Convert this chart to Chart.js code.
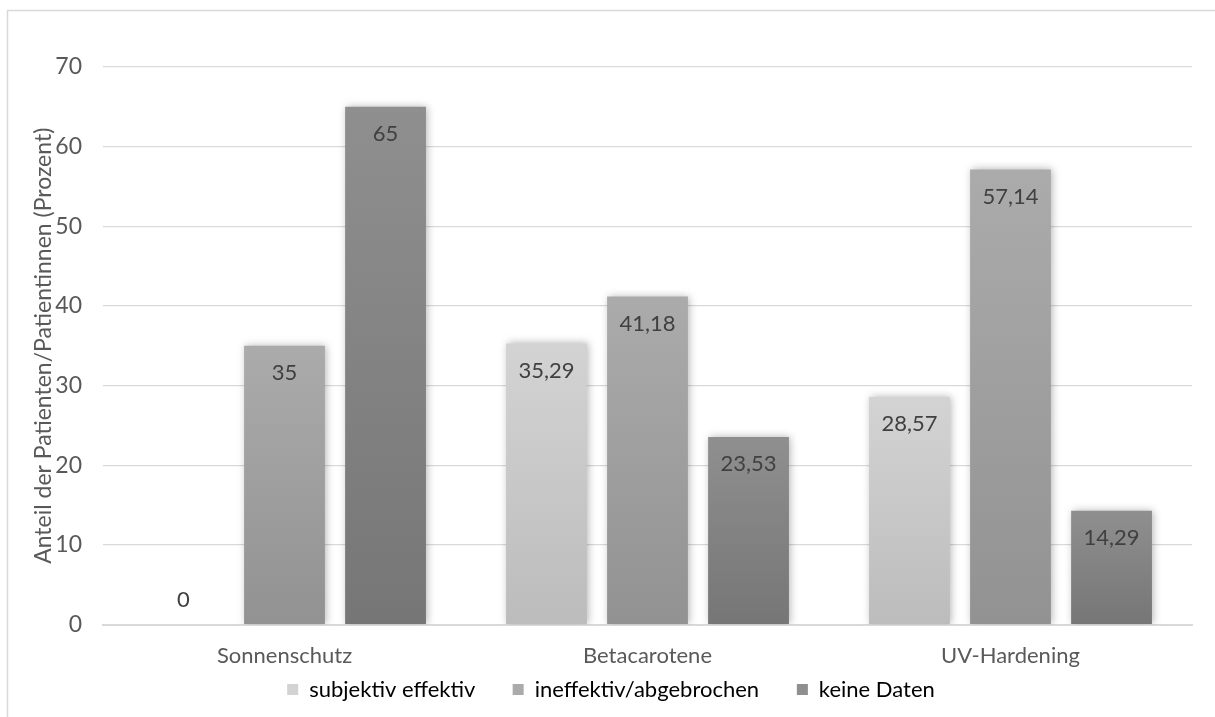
<!DOCTYPE html>
<html>
<head>
<meta charset="utf-8">
<script src="https://cdn.jsdelivr.net/npm/chart.js@4"></script>
<style>
  html, body { margin: 0; padding: 0; background: #fff; }
  #wrap { width: 1215px; height: 717px; position: relative; }
</style>
</head>
<body>
<div id="wrap"><canvas id="chart" width="1215" height="717"></canvas></div>
<script>
// Chart data
const categories = ['Sonnenschutz', 'Betacarotene', 'UV-Hardening'];
const seriesNames = ['subjektiv effektiv', 'ineffektiv/abgebrochen', 'keine Daten'];
const subjektivEffektiv = [0, 35.29, 28.57];
const ineffektivAbgebrochen = [35, 41.18, 57.14];
const keineDaten = [65, 23.53, 14.29];
const yTicks = [0, 10, 20, 30, 40, 50, 60, 70];

// top / bottom colours of each series' gradient
const shades = [
    ['#d3d3d3', '#bcbcbc'],
    ['#ababab', '#929292'],
    ['#8f8f8f', '#767676']
];

const FONT = 'Lato';
const textColor = '#595959';
const legendGap = '\u00a0\u00a0\u00a0\u00a0\u00a0\u00a0';

function barGradient(idx) {
    return (ctx) => {
        const chart = ctx.chart;
        const y = chart.scales.y;
        if (!y || ctx.raw === undefined) return shades[idx][0];
        const top = y.getPixelForValue(ctx.raw);
        const base = y.getPixelForValue(0);
        if (!isFinite(top) || !isFinite(base) || base - top < 1) return shades[idx][0];
        const g = chart.ctx.createLinearGradient(0, top, 0, base);
        g.addColorStop(0, shades[idx][0]);
        g.addColorStop(1, shades[idx][1]);
        return g;
    };
}

const frame = {
    id: 'frame',
    beforeDraw(chart) {
        const c = chart.ctx;
        c.save();
        c.strokeStyle = '#d9d9d9';
        c.lineWidth = 1.5;
        c.beginPath();
        c.moveTo(7.5, 717);
        c.lineTo(7.5, 10.5);
        c.lineTo(1215, 10.5);
        c.stroke();
        c.restore();
    }
};

const barShadow = {
    id: 'barShadow',
    beforeDatasetsDraw(chart) {
        const c = chart.ctx;
        c.save();
        c.shadowColor = 'rgba(0, 0, 0, 0.3)';
        c.shadowBlur = 8;
        c.shadowOffsetX = 1.5;
        c.shadowOffsetY = 0;
    },
    afterDatasetsDraw(chart) {
        chart.ctx.restore();
    }
};

const valueLabels = {
    id: 'valueLabels',
    afterDatasetsDraw(chart) {
        const c = chart.ctx;
        c.save();
        c.font = '22px "' + FONT + '"';
        c.fillStyle = '#404040';
        c.textAlign = 'center';
        c.textBaseline = 'middle';
        chart.data.datasets.forEach((ds, di) => {
            chart.getDatasetMeta(di).data.forEach((el, i) => {
                const v = ds.data[i];
                const ty = v === 0 ? el.base - 25 : el.y + 27;
                c.fillText(String(v).replace('.', ','), el.x, ty);
            });
        });
        c.restore();
    }
};

const allSeries = [subjektivEffektiv, ineffektivAbgebrochen, keineDaten];

new Chart(document.getElementById('chart'), {
    type: 'bar',
    data: {
        labels: categories,
        datasets: allSeries.map((values, i) => ({
            label: seriesNames[i],
            data: values,
            backgroundColor: barGradient(i),
            borderWidth: 0,
            categoryPercentage: 0.835,
            barPercentage: 0.8
        }))
    },
    options: {
        responsive: false,
        animation: false,
        layout: { padding: { top: 67, right: 23, bottom: 6.5, left: 30 } },
        plugins: {
            tooltip: { enabled: false },
            legend: {
                position: 'bottom',
                labels: {
                    boxWidth: 11,
                    boxHeight: 11,
                    padding: 4,
                    color: textColor,
                    font: { family: FONT, size: 22 },
                    generateLabels: (chart) => seriesNames.map((name, i) => ({
                        text: i < seriesNames.length - 1 ? name + legendGap : name,
                        fillStyle: shades[i][0],
                        strokeStyle: shades[i][0],
                        lineWidth: 0,
                        datasetIndex: i
                    }))
                }
            }
        },
        scales: {
            x: {
                grid: { display: false },
                border: { color: '#d9d9d9', width: 2 },
                ticks: { color: textColor, font: { family: FONT, size: 22 }, padding: 10 },
                afterFit: (scale) => { scale.height = 50; }
            },
            y: {
                min: 0,
                max: 70,
                afterBuildTicks: (scale) => { scale.ticks = yTicks.map(v => ({ value: v })); },
                afterFit: (scale) => { scale.width = 73; },
                grid: { color: '#d9d9d9', lineWidth: 1.2, drawTicks: false },
                border: { display: false },
                ticks: { color: textColor, font: { family: FONT, size: 23 }, padding: 21 },
                title: {
                    display: true,
                    text: 'Anteil der Patienten/Patientinnen (Prozent)',
                    color: textColor,
                    font: { family: FONT, size: 23 },
                    padding: 0
                }
            }
        }
    },
    plugins: [frame, barShadow, valueLabels]
});
</script>
</body>
</html>
